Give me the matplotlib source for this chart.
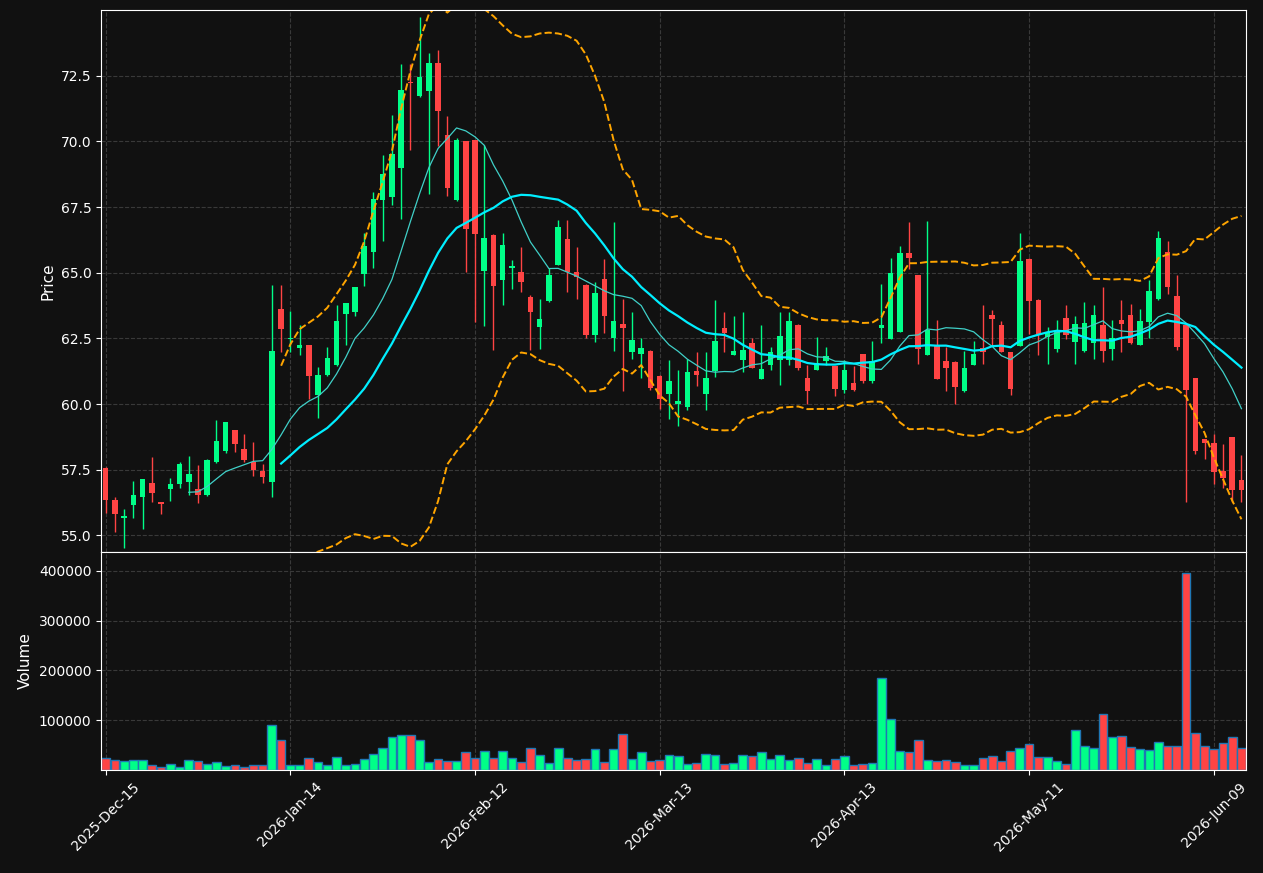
import numpy as np
import pandas as pd
import matplotlib
matplotlib.use("Agg")
import matplotlib.pyplot as plt

# daily OHLC (US trading days starting 2025-12-15)
start_date = "2025-12-15"
holidays = ["2025-12-25", "2026-01-01", "2026-01-19", "2026-02-16", "2026-04-03", "2026-05-25"]

opens = [57.56, 56.35, 55.67, 56.15, 56.47, 56.99, 56.27, 56.78, 56.97, 57.03,
         56.75, 56.55, 57.80, 58.22, 59.00, 58.29, 57.80, 57.45, 57.04, 63.62,
         62.48, 62.14, 62.24, 60.34, 61.10, 61.48, 63.44, 63.51, 64.97, 65.79,
         67.77, 67.89, 68.99, 72.28, 71.73, 71.94, 73.00, 70.23, 67.76, 70.00,
         70.04, 65.07, 66.44, 64.73, 65.20, 65.03, 64.08, 62.95, 63.94, 65.31,
         66.29, 65.03, 64.54, 62.64, 64.77, 62.50, 63.05, 62.00, 61.89, 62.03,
         61.08, 60.39, 60.01, 59.87, 61.27, 60.37, 61.24, 62.90, 61.87, 61.66,
         62.33, 60.97, 61.47, 61.66, 61.66, 63.01, 61.00, 61.30, 61.62, 61.43,
         60.54, 60.80, 61.90, 60.86, 62.90, 62.48, 62.75, 65.76, 64.90, 61.88,
         62.20, 61.64, 61.60, 60.48, 61.50, 62.15, 63.40, 63.00, 61.98, 62.22,
         65.53, 63.98, 62.55, 62.10, 63.26, 62.37, 62.03, 62.33, 63.00, 62.10,
         63.19, 63.38, 62.26, 63.11, 63.99, 65.79, 64.12, 63.00, 60.98, 58.65,
         58.50, 57.44, 58.74, 57.10]
highs = [57.60, 56.47, 55.99, 57.06, 57.16, 57.97, 56.27, 57.17, 57.79, 58.02,
         57.67, 57.90, 59.39, 59.32, 59.02, 58.86, 58.54, 57.70, 64.53, 64.53,
         63.54, 63.00, 62.26, 61.40, 62.16, 63.77, 63.85, 64.46, 66.52, 68.08,
         69.50, 71.02, 72.96, 72.96, 74.76, 73.37, 73.49, 70.98, 70.13, 70.02,
         70.06, 69.86, 66.46, 66.50, 65.49, 66.00, 64.15, 63.99, 65.17, 67.00,
         67.00, 65.97, 64.56, 64.63, 65.51, 66.92, 63.99, 63.50, 62.51, 62.05,
         61.10, 61.69, 61.30, 61.71, 62.00, 62.00, 63.96, 63.51, 63.35, 63.51,
         62.50, 63.01, 62.16, 63.51, 63.51, 63.03, 61.49, 62.54, 62.16, 61.45,
         61.68, 61.43, 61.92, 62.41, 64.58, 65.58, 66.01, 66.95, 64.92, 66.97,
         63.19, 62.18, 61.62, 62.03, 62.41, 63.78, 63.57, 63.16, 62.00, 66.50,
         65.55, 64.00, 62.94, 63.19, 63.78, 63.34, 63.88, 63.78, 64.47, 63.21,
         63.97, 63.82, 63.63, 64.73, 66.59, 66.21, 64.92, 63.02, 61.00, 58.67,
         58.84, 58.46, 58.76, 58.06]
lows = [55.86, 55.14, 54.50, 55.65, 55.23, 56.26, 55.80, 56.29, 56.79, 56.52,
        56.22, 56.50, 57.75, 58.12, 58.19, 57.80, 57.27, 56.98, 56.47, 61.99,
        62.00, 61.86, 60.18, 59.46, 61.08, 61.46, 62.24, 63.35, 64.50, 65.20,
        66.20, 67.57, 67.04, 69.66, 71.70, 68.01, 69.81, 67.94, 67.74, 65.03,
        63.11, 62.99, 62.07, 63.78, 64.37, 64.26, 62.04, 62.09, 63.90, 65.30,
        64.26, 63.99, 62.51, 62.36, 62.70, 62.02, 60.48, 61.71, 60.99, 60.52,
        59.81, 59.43, 59.15, 59.78, 60.67, 59.78, 61.03, 62.00, 61.85, 61.22,
        61.37, 60.95, 61.28, 60.71, 61.50, 61.28, 59.99, 61.28, 61.49, 60.29,
        60.42, 60.48, 60.79, 60.80, 62.33, 62.46, 62.73, 65.14, 61.51, 61.86,
        60.95, 60.50, 60.01, 60.46, 61.48, 61.51, 62.22, 61.97, 60.35, 62.20,
        62.68, 61.86, 61.51, 61.99, 62.46, 61.51, 62.00, 61.70, 61.61, 61.68,
        61.99, 62.29, 62.24, 62.50, 63.95, 64.20, 62.05, 56.28, 58.08, 57.89,
        56.95, 56.82, 56.28, 56.28]
closes = [56.35, 55.83, 55.71, 56.52, 57.14, 56.62, 56.21, 56.95, 57.72, 57.33,
          56.55, 57.87, 58.58, 59.30, 58.49, 57.88, 57.49, 57.22, 62.02, 62.86,
          62.52, 62.24, 61.08, 61.10, 61.74, 63.16, 63.83, 64.45, 66.01, 67.80,
          68.75, 69.53, 71.98, 72.23, 72.44, 73.00, 71.16, 68.23, 70.04, 66.67,
          66.48, 66.32, 64.51, 66.06, 65.25, 64.63, 63.52, 63.24, 64.92, 66.74,
          65.02, 64.83, 62.64, 64.23, 63.36, 63.17, 62.91, 62.45, 62.14, 60.60,
          60.19, 60.89, 60.13, 61.23, 61.09, 61.00, 62.41, 62.70, 62.03, 62.06,
          61.39, 61.33, 61.97, 62.60, 63.16, 61.39, 60.48, 61.56, 61.84, 60.58,
          61.30, 60.54, 60.86, 61.64, 63.00, 65.00, 65.76, 65.55, 62.10, 62.81,
          60.96, 61.39, 60.66, 61.37, 61.90, 61.99, 63.24, 61.99, 60.58, 65.46,
          63.92, 62.66, 62.70, 62.75, 62.62, 63.06, 63.10, 63.38, 62.03, 62.50,
          63.04, 62.31, 63.15, 64.32, 66.31, 64.45, 62.18, 60.54, 58.21, 58.50,
          57.41, 57.17, 56.73, 56.73]
volumes = [24000, 20700, 18000, 20000, 20000, 9400, 6000, 11400, 6000, 20000,
           18000, 11400, 16000, 8000, 9400, 6000, 9400, 9400, 90000, 60000,
           9400, 9400, 24000, 16000, 9400, 26000, 9400, 11400, 22000, 32000,
           44000, 66000, 70000, 70000, 60000, 16000, 22000, 18000, 18000, 36000,
           24000, 38000, 24000, 38000, 24000, 16000, 44000, 30000, 14000, 44000,
           24000, 20000, 22000, 42000, 16000, 42000, 72000, 22000, 36000, 18000,
           20000, 30000, 28000, 11400, 14000, 32000, 30000, 11400, 14000, 30000,
           28000, 36000, 22000, 30000, 20000, 24000, 14000, 22000, 9400, 22000,
           28000, 9400, 12000, 14000, 184000, 102000, 38000, 36000, 60000, 20000,
           18000, 20000, 16000, 9400, 9400, 24000, 28000, 18000, 38000, 44000,
           52000, 26000, 26000, 18000, 11400, 80000, 48000, 44000, 112000, 66000,
           68000, 46000, 42000, 40000, 56000, 48000, 48000, 396000, 74000, 48000,
           42000, 54000, 66000, 44000]

dates = pd.bdate_range(start_date, periods=len(closes), freq="C", holidays=holidays)
df = pd.DataFrame({"Open": opens, "High": highs, "Low": lows, "Close": closes,
                   "Volume": volumes}, index=dates)

df["MA10"] = df["Close"].rolling(10).mean()
df["MA20"] = df["Close"].rolling(20).mean()
std20 = df["Close"].rolling(20).std()
df["Upper"] = df["MA20"] + 2 * std20
df["Lower"] = df["MA20"] - 2 * std20

bg = "#111111"
up_color = "#00ff88"
down_color = "#ff4444"

x = np.arange(len(df))
up = df["Close"] >= df["Open"]
colors = np.where(up, up_color, down_color)

fig = plt.figure(figsize=(12.63, 8.73), dpi=100, facecolor=bg)
ax = fig.add_axes([0.0800, 0.3677, 0.9066, 0.6208])
ax_vol = fig.add_axes([0.0800, 0.1180, 0.9066, 0.2497], sharex=ax)

# candles
ax.vlines(x, df["Low"], df["High"], colors=colors, linewidth=1)
body_bottom = np.minimum(df["Open"], df["Close"])
body_height = np.maximum((df["Close"] - df["Open"]).abs(), 0.05)
ax.bar(x, body_height, bottom=body_bottom, width=0.6, color=colors)

ax.plot(x, df["MA10"], color="#40d0c8", linewidth=0.9)
ax.plot(x, df["MA20"], color="#00eeff", linewidth=1.6)
ax.plot(x, df["Upper"], color="orange", linestyle="--", linewidth=1.4)
ax.plot(x, df["Lower"], color="orange", linestyle="--", linewidth=1.4)

ax.set_ylim(df["Low"].min() * 0.9975, df["High"].max() * 1.0033)
ax.set_yticks(np.arange(55.0, 75.0, 2.5))
ax.set_ylabel("Price", color="white", fontsize=11)

# volume
ax_vol.bar(x, df["Volume"], width=0.95, color=colors, edgecolor="#1f77b4", linewidth=1)
ax_vol.set_ylim(0, df["Volume"].max() * 1.105)
ax_vol.set_yticks([100000, 200000, 300000, 400000])
ax_vol.ticklabel_format(axis="y", style="plain")
ax_vol.set_ylabel("Volume", color="white", fontsize=11)

tick_pos = x[::20]
ax_vol.set_xticks(tick_pos)
ax_vol.set_xticklabels([d.strftime("%Y-%b-%d") for d in df.index[::20]], rotation=45)
ax.set_xlim(-0.5, len(df) - 0.5)
ax.tick_params(axis="x", labelbottom=False)

for a in (ax, ax_vol):
    a.set_facecolor(bg)
    a.grid(True, color="#444444", linestyle="--", linewidth=0.8, alpha=0.8)
    a.set_axisbelow(True)
    a.tick_params(colors="white", labelsize=10)
    for s in a.spines.values():
        s.set_color("white")

plt.savefig("out.png", dpi=100, facecolor=bg)
